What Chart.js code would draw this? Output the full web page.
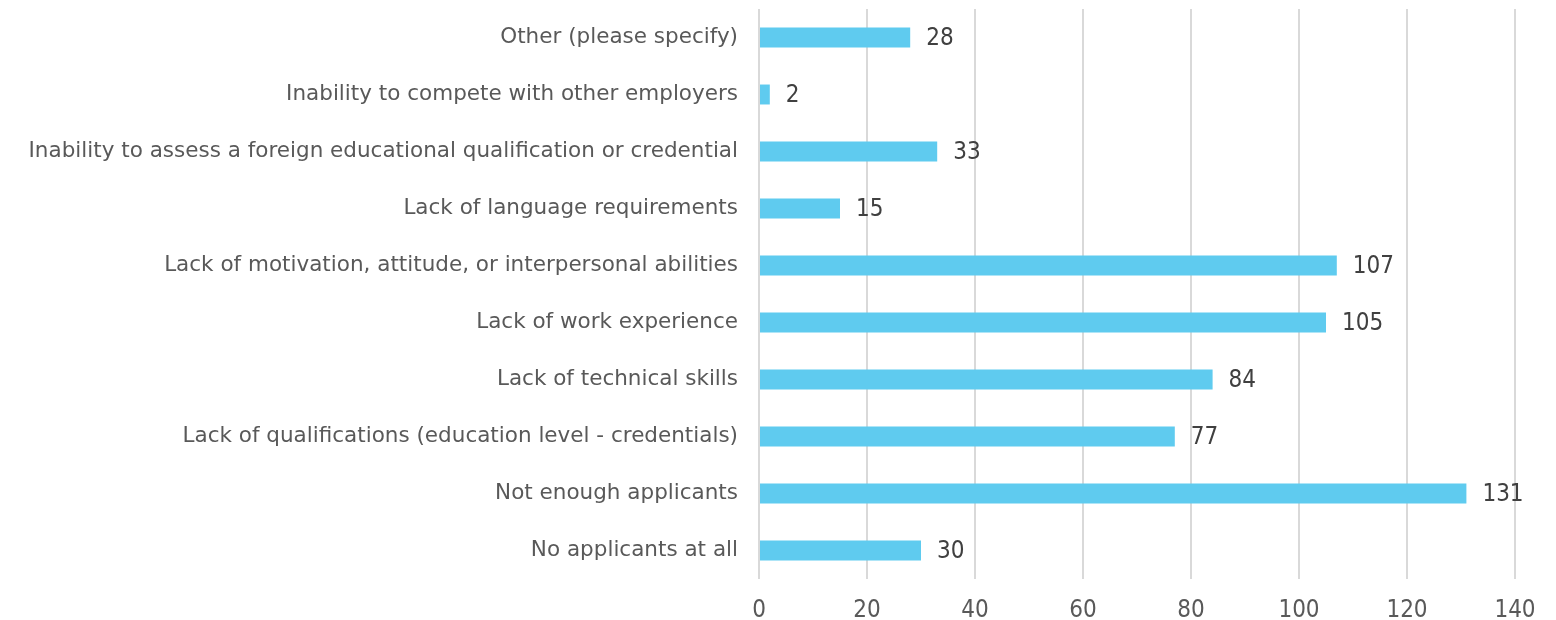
<!DOCTYPE html>
<html>
<head>
<meta charset="utf-8">
<script src="https://cdn.jsdelivr.net/npm/chart.js@4.4.1/dist/chart.umd.min.js"></script>
<style>
  html, body { margin: 0; padding: 0; background: #fff; }
  #wrap { width: 1556px; height: 620px; }
</style>
</head>
<body>
<div id="wrap"><canvas id="chart" width="1556" height="620"></canvas></div>
<script>
const categories = [
  "Other (please specify)",
  "Inability to compete with other employers",
  "Inability to assess a foreign educational qualification or credential",
  "Lack of language requirements",
  "Lack of motivation, attitude, or interpersonal abilities",
  "Lack of work experience",
  "Lack of technical skills",
  "Lack of qualifications (education level - credentials)",
  "Not enough applicants",
  "No applicants at all"
]
const counts = [28, 2, 33, 15, 107, 105, 84, 77, 131, 30]
const xTicks = [0, 20, 40, 60, 80, 100, 120, 140]

const NUM_FONT = "'DejaVu Sans Condensed', 'DejaVu Sans', sans-serif"
const LABEL_FONT = "'DejaVu Sans', sans-serif"

// valeurs au bout des barres
const valueLabels = {
  id: "valueLabels",
  afterDatasetsDraw(chart) {
    const ctx = chart.ctx
    const meta = chart.getDatasetMeta(0)
    ctx.save()
    ctx.font = "24px " + NUM_FONT
    ctx.fillStyle = "#404040"
    ctx.textBaseline = "middle"
    ctx.textAlign = "left"
    meta.data.forEach((bar, i) => {
      ctx.fillText(String(counts[i]), bar.x + 16, bar.y + 1)
    })
    ctx.restore()
  }
}

new Chart(document.getElementById("chart"), {
  type: "bar",
  data: {
    labels: categories,
    datasets: [{
      data: counts,
      backgroundColor: "#5FCBEF",
      borderWidth: 0,
      barPercentage: 0.35,
      categoryPercentage: 1
    }]
  },
  options: {
    indexAxis: "y",
    responsive: false,
    animation: false,
    layout: { padding: { top: 9, right: 41, left: 0, bottom: 0 } },
    plugins: { legend: { display: false }, tooltip: { enabled: false } },
    scales: {
      x: {
        min: 0,
        max: 140,
        afterBuildTicks: (axis) => { axis.ticks = xTicks.map((v) => ({ value: v })) },
        afterFit: (axis) => { axis.height = 41; axis.paddingLeft = 0; axis.paddingRight = 0 },
        grid: { color: "#D9D9D9", lineWidth: 2, drawTicks: false },
        border: { display: false },
        ticks: { color: "#595959", font: { family: NUM_FONT, size: 24 }, padding: 17 }
      },
      y: {
        afterFit: (axis) => { axis.width = 759; axis.paddingTop = 0; axis.paddingBottom = 0 },
        grid: { display: false, drawTicks: false },
        border: { display: false },
        ticks: { color: "#595959", font: { family: LABEL_FONT, size: 21.5 }, padding: 21 }
      }
    }
  },
  plugins: [valueLabels]
})
</script>
</body>
</html>
